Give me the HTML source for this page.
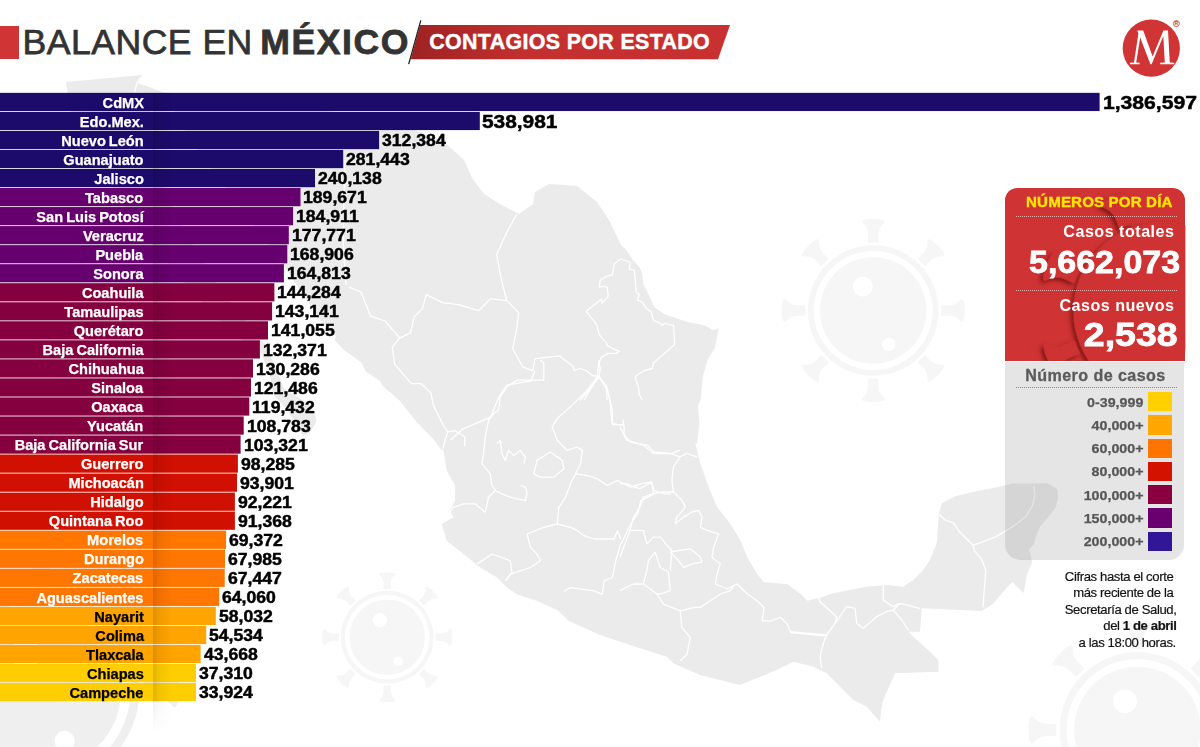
<!DOCTYPE html>
<html><head><meta charset="utf-8">
<style>
*{margin:0;padding:0;box-sizing:border-box}
html,body{width:1200px;height:747px;overflow:hidden;background:#fff}
body{position:relative;font-family:"Liberation Sans",sans-serif}
.a{position:absolute;white-space:nowrap}
</style></head><body>

<svg class="a" style="left:0;top:0" width="1200" height="747" viewBox="0 0 1200 747"><polygon points="66,82 142,75 140,80 137,83 163,92 230,100 300,108 360,115 410,128 444,142 464,160 472,178 484,194 500,204 519,214 533,204 535,192 549,184 577,186 597,202 609,220 621,245 626.3,250 631.3,258 639.3,267.1 642.3,274.1 643.3,284.1 648.4,294.2 654.4,307.2 664.4,314.3 676.5,318.3 688.5,322.3 700,324.3 705.3,325.8 713.7,330.6 718.6,328.2 715,347.5 707.7,359.5 702.9,376.4 700.5,400.5 698,405.3 699.3,424.6 696.9,443.9 695.3,443.4 700.3,463.5 708.7,486.9 717,507 730.4,523.7 740.5,540.5 747.2,557.2 757.2,574 763.9,582.3 787.3,584 800.7,594 807.4,600.7 820.8,597.4 833.3,593.3 866.7,586.7 886.7,585 903.3,586.7 913.3,580 923.3,570 930,560 937,542 939,513 942,503 956,496 973,492 993,488 1012.5,483.4 1032,483.4 1047.9,483.2 1057.5,489.6 1058,499.3 1055.4,507.9 1047.9,517.5 1040.4,526 1036,535.7 1034,544.3 1028.6,549.6 1030.7,555 1032,562 1026.5,576 1023.7,593 1012.5,582 1007,587.5 993,604 981.5,611 921.7,608.3 920,631.7 908.3,631.7 913.3,636.7 930,651.7 938.3,660 938.3,671.7 895,673.3 883.3,700 881.7,706.7 880,721.7 866.7,706.7 853.3,700 826.7,673.3 813.3,666.7 793.3,661.7 776.7,670 740,685 700,675 673.3,663.3 666.7,656.7 630,645 600,635 569,621 557.2,610 537.1,601 517,594.3 507,587.6 497,577.5 480.2,567.5 463.5,554.1 446.7,540.7 441.7,524 453.4,517.3 450,510.6 455.1,500.6 455.1,485.5 446.7,470.4 443.4,450.4 440.6,448.7 433.4,439 416.5,422 399.6,400.4 382.7,386 380.3,381.3 365.8,371.6 361,362 344,350 334.5,340.3 336,336 330,332 320,320 300,290 280,260 250,220 220,180 190,140 168,100 160,97 150,100 152,140 165,190 190,240 220,290 245,320 265,344.7 275.3,366.8 284.2,388.9 301.9,399.2 313.6,409.5 316.6,421.3 310.7,431.6 303.3,436 299,430 288.6,412.5 273.9,394.8 269.5,374.2 260.6,352 235,335 200,300 160,255 120,200 90,150 70,110 66,82" fill="#ebebeb"/><polyline points="516.7,214.3 506.7,232.4 496.7,254.5 500.7,276.5 506.7,300.6 518.8,312.7" fill="none" stroke="#fff" stroke-width="1.3" stroke-linejoin="round"/><polyline points="506.7,300.6 490.6,298.6 478.6,310.7 458.5,304.7 442.4,302.7 426.4,294.6 422.4,308.7 414.3,316.7 410.3,332.8 398.3,338.8" fill="none" stroke="#fff" stroke-width="1.3" stroke-linejoin="round"/><polyline points="518.8,312.7 516.7,328.8 512.7,348.8 522.8,366.9 532.8,370.9" fill="none" stroke="#fff" stroke-width="1.3" stroke-linejoin="round"/><polyline points="450.5,440.0 462.5,429.2 490.6,417.1 498.7,397.0 506.7,385.0 530.8,381.0 534.8,370.9" fill="none" stroke="#fff" stroke-width="1.3" stroke-linejoin="round"/><polyline points="532.8,370.9 534.8,358.9 550.9,356.9 560.5,355.9" fill="none" stroke="#fff" stroke-width="1.3" stroke-linejoin="round"/><polyline points="345,160 344,200 343,240 346,285" fill="none" stroke="#fff" stroke-width="1.3" stroke-linejoin="round"/><polyline points="598.1,376.4 592.0,386.0 580.0,400.5" fill="none" stroke="#fff" stroke-width="1.3" stroke-linejoin="round"/><polyline points="598.1,376.4 606.5,386.0 610.1,400.5 611.3,414.9 612.5,424.6 623.4,424.6 623.4,419.8" fill="none" stroke="#fff" stroke-width="1.3" stroke-linejoin="round"/><polyline points="483.5,453.7 485.2,437.0 488.6,420.2 493.6,413.5 498.6,410.2 500.3,396.8 507.0,386.8 517.0,380.1 543.8,380.1 543.8,363.3 540.4,360.0" fill="none" stroke="#fff" stroke-width="1.3" stroke-linejoin="round"/><polyline points="483.5,453.7 481.9,463.7 490.2,473.8 491.9,485.5 495.3,490.5 488.6,497.2 485.2,512.3" fill="none" stroke="#fff" stroke-width="1.3" stroke-linejoin="round"/><polyline points="485.2,512.3 475.2,503.9 463.5,503.9 453.4,507.3 448.4,513.9" fill="none" stroke="#fff" stroke-width="1.3" stroke-linejoin="round"/><polyline points="495.3,490.5 502.0,493.9 510.3,497.2 525.4,500.6 527.1,493.9 525.4,487.2 520.4,485.5" fill="none" stroke="#fff" stroke-width="1.3" stroke-linejoin="round"/><polyline points="533.7,473.8 537.1,460.4 550.5,452.0 562.2,460.4 563.9,468.8 553.8,477.1 540.4,477.1 533.7,473.8" fill="none" stroke="#fff" stroke-width="1.3" stroke-linejoin="round"/><polyline points="599.0,360.0 597.3,376.7 587.3,390.1 573.9,403.5 557.2,418.6 552.2,426.9 557.2,440.3 567.2,450.4 577.3,447.0 582.3,450.4 580.6,463.7 575.6,473.8" fill="none" stroke="#fff" stroke-width="1.3" stroke-linejoin="round"/><polyline points="575.6,473.8 570.6,483.8 565.5,497.2 558.8,507.3 557.2,524.0" fill="none" stroke="#fff" stroke-width="1.3" stroke-linejoin="round"/><polyline points="557.2,524.0 543.8,527.3 527.1,534.0 530.4,547.4 537.1,554.1 540.4,560.8 530.4,567.5 520.4,570.8 510.3,574.2 505.3,580.9" fill="none" stroke="#fff" stroke-width="1.3" stroke-linejoin="round"/><polyline points="557.2,524.0 570.6,527.3 577.3,530.7 583.9,535.7 594.0,539.0 614.1,539.0 617.4,530.7 620.8,539.0" fill="none" stroke="#fff" stroke-width="1.3" stroke-linejoin="round"/><polyline points="575.6,473.8 587.3,475.5 597.3,478.8 607.4,485.5 617.4,480.5 630.8,487.2 640.8,483.8 650.9,482.2 654.2,490.5 664.3,493.9 671.0,493.9" fill="none" stroke="#fff" stroke-width="1.3" stroke-linejoin="round"/><polyline points="599.0,376.7 607.4,390.1 612.4,410.2 612.4,423.6 624.1,425.3 624.1,435.3 630.8,442.0 647.5,445.3 654.2,452.0 671.0,453.7 680.0,450.4" fill="none" stroke="#fff" stroke-width="1.3" stroke-linejoin="round"/><polyline points="476.9,564.1 491.9,554.1 502.0,557.5 510.3,560.8 512.0,572.5 505.3,580.9" fill="none" stroke="#fff" stroke-width="1.3" stroke-linejoin="round"/><polyline points="563.9,590.9 570.6,587.6 594.0,590.9 602.4,594.3 604.0,580.9 612.4,577.5 615.7,560.8 620.8,544.1 627.5,530.7 630.8,524.0" fill="none" stroke="#fff" stroke-width="1.3" stroke-linejoin="round"/><polyline points="630.8,524.0 637.5,513.9 640.8,500.6 654.2,493.9" fill="none" stroke="#fff" stroke-width="1.3" stroke-linejoin="round"/><polyline points="496.9,443.7 500.3,440.3 502.0,453.7 505.3,460.4 508.6,450.4 513.7,455.4 520.4,450.4 525.4,457.1 523.7,463.7" fill="none" stroke="#fff" stroke-width="1.3" stroke-linejoin="round"/><polyline points="620.0,426.7 626.7,440.1 643.4,445.1 653.5,453.5 670.2,453.5 680.2,456.8 686.9,453.5 697.0,456.8" fill="none" stroke="#fff" stroke-width="1.3" stroke-linejoin="round"/><polyline points="680.2,456.8 673.5,466.9 671.9,480.2 673.5,492.0 681.9,500.3 685.3,507.0 676.9,517.1 675.2,523.7" fill="none" stroke="#fff" stroke-width="1.3" stroke-linejoin="round"/><polyline points="675.2,523.7 683.6,517.1 692.0,512.0 698.6,510.4 702.0,517.1 700.3,527.1 707.0,530.4 718.7,533.8 713.7,547.2 712.0,557.2 720.4,563.9 717.1,573.9 715.4,584.0 727.1,589.0 733.8,585.7" fill="none" stroke="#fff" stroke-width="1.3" stroke-linejoin="round"/><polyline points="733.8,585.7 737.1,584.0 747.2,594.0 757.2,600.7 763.9,607.4 762.2,620.8 770.6,620.8 780.6,617.5 787.3,624.1 790.7,632.5 824.1,635.9 827.5,634.2" fill="none" stroke="#fff" stroke-width="1.3" stroke-linejoin="round"/><polyline points="733.8,585.7 730.4,590.7 720.4,594.0 710.4,600.7 700.3,607.4 695.3,607.4 686.9,609.1 680.2,610.8 681.9,627.5 690.3,637.5 686.9,654.3 680.2,661.0" fill="none" stroke="#fff" stroke-width="1.3" stroke-linejoin="round"/><polyline points="680.2,610.8 663.5,604.1 656.8,594.0 643.4,584.0 633.4,584.0 620.0,590.7" fill="none" stroke="#fff" stroke-width="1.3" stroke-linejoin="round"/><polyline points="643.4,584.0 646.8,570.6 648.4,560.6 655.1,552.2 660.2,567.3 668.5,572.3 670.2,590.7 660.2,594.0 656.8,594.0" fill="none" stroke="#fff" stroke-width="1.3" stroke-linejoin="round"/><polyline points="620.0,557.2 630.0,530.4 643.4,530.4 646.8,543.8 653.5,537.1 660.2,537.1 668.5,547.2 671.9,550.5 670.2,570.6" fill="none" stroke="#fff" stroke-width="1.3" stroke-linejoin="round"/><polyline points="670.2,552.2 678.6,550.5 690.3,548.8 700.3,557.2 702.0,562.2 692.0,563.9 683.6,567.3 676.9,558.9 670.2,552.2" fill="none" stroke="#fff" stroke-width="1.3" stroke-linejoin="round"/><polyline points="630.0,530.4 633.4,517.1 640.1,507.0 643.4,497.0 653.5,493.6 651.8,481.9 640.1,488.6 633.4,486.9 626.7,483.6 620.0,483.6" fill="none" stroke="#fff" stroke-width="1.3" stroke-linejoin="round"/><polyline points="653.5,493.6 663.5,492.0 673.5,492.0" fill="none" stroke="#fff" stroke-width="1.3" stroke-linejoin="round"/><polyline points="939.4,514.4 945.0,520.0 953.4,522.8 959.1,531.2 967.5,539.7 973.1,545.3" fill="none" stroke="#fff" stroke-width="1.3" stroke-linejoin="round"/><polyline points="973.1,545.3 984.4,541.1 995.6,536.9 1009.7,528.4 1018.1,522.8 1026.5,515.8 1032.2,505.9 1035.0,494.7 1033.6,486.2" fill="none" stroke="#fff" stroke-width="1.3" stroke-linejoin="round"/><polyline points="973.1,545.3 974.5,550.9 981.6,559.4 985.8,570.6 984.4,587.5 983.0,607.2" fill="none" stroke="#fff" stroke-width="1.3" stroke-linejoin="round"/><polyline points="630.3,262.0 620.2,259.0 614.2,264.1 612.2,275.1 607.2,276.1 600.2,280.1 599.2,287.1 603.2,286.1 607.2,287.1 608.2,296.2 602.2,303.2 601.2,299.2 586.1,311.2 590.1,316.3 595.1,322.3 597.1,326.3 599.2,334.3 603.2,339.4 606.2,342.4 607.2,345.4 612.2,348.4 619.2,351.4 616.2,353.4 608.2,353.4 601.2,357.4 599.2,362.4 600.2,368.5 599.2,376.5 606.2,386.5 607.2,400.0" fill="none" stroke="#fff" stroke-width="1.3" stroke-linejoin="round"/><polyline points="630.3,262.0 629.3,269.1 634.3,270.1 635.3,280.1 636.3,292.2 639.3,294.2 637.3,300.2 642.3,302.2 646.3,308.2 651.4,312.2 653.4,320.3 658.4,322.3 662.4,325.3 664.4,323.3 673.5,325.3 674.5,344.4 664.4,353.4 658.4,358.4 653.4,363.5 652.4,368.5 644.3,370.5 636.3,375.5 635.3,378.5 638.3,386.5 639.3,394.6 642.3,400.0" fill="none" stroke="#fff" stroke-width="1.3" stroke-linejoin="round"/><polyline points="560.0,356.4 568.0,362.4 573.1,366.5 574.1,370.5 580.1,368.5 586.1,370.5 592.1,375.5 599.2,376.5" fill="none" stroke="#fff" stroke-width="1.3" stroke-linejoin="round"/><polyline points="599.2,376.5 592.1,386.5 584.1,400.0" fill="none" stroke="#fff" stroke-width="1.3" stroke-linejoin="round"/><polyline points="349,287.2 361,292 370.6,316.2 385,321 399.6,337.8 392.3,347.5 394.7,364.4 411.6,383.7 421.3,383.7 431,393.3 433.4,405.4 438.2,415 443,424.6 447.8,431.9 445.4,439.1 443,448.7" fill="none" stroke="#fff" stroke-width="1.3" stroke-linejoin="round"/><polyline points="447.8,431.9 455,430.7 464.7,436.7 464.7,446.4" fill="none" stroke="#fff" stroke-width="1.3" stroke-linejoin="round"/><polyline points="790.0,631.7 826.7,635.0 823.3,643.3 820.0,656.7 821.7,668.3" fill="none" stroke="#fff" stroke-width="1.3" stroke-linejoin="round"/><polyline points="826.7,635.0 835.0,623.3 836.7,616.7 820.0,601.7 818.3,596.7" fill="none" stroke="#fff" stroke-width="1.3" stroke-linejoin="round"/><polyline points="835.0,623.3 846.7,606.7 855.0,608.3 856.7,623.3 863.3,628.3 876.7,616.7 886.7,611.7 893.3,610.0 901.7,620.0 908.3,630.0" fill="none" stroke="#fff" stroke-width="1.3" stroke-linejoin="round"/><polyline points="893.3,610.0 900.0,603.3 920.0,608.3" fill="none" stroke="#fff" stroke-width="1.3" stroke-linejoin="round"/><polyline points="883.3,585.0 883.3,600.0 893.3,606.7 900.0,603.3" fill="none" stroke="#fff" stroke-width="1.3" stroke-linejoin="round"/><polyline points="140.5,77 137,83 134.5,93" fill="none" stroke="#fff" stroke-width="1.3" stroke-linejoin="round"/><g transform="translate(873.2,310.5) rotate(0) scale(1.0)"><g transform="rotate(0)"><rect x="-5.15" y="-80" width="10.3" height="12" fill="#f6f6f6"/><path d="M-5.15,-78 Q-6.5,-84.5 -11.7,-88.2 Q-11.7,-91.6 0,-91.6 Q11.7,-91.6 11.7,-88.2 Q6.5,-84.5 5.15,-78Z" fill="#f6f6f6"/></g><g transform="rotate(45)"><rect x="-5.15" y="-80" width="10.3" height="12" fill="#f6f6f6"/><path d="M-5.15,-78 Q-6.5,-84.5 -11.7,-88.2 Q-11.7,-91.6 0,-91.6 Q11.7,-91.6 11.7,-88.2 Q6.5,-84.5 5.15,-78Z" fill="#f6f6f6"/></g><g transform="rotate(90)"><rect x="-5.15" y="-80" width="10.3" height="12" fill="#f6f6f6"/><path d="M-5.15,-78 Q-6.5,-84.5 -11.7,-88.2 Q-11.7,-91.6 0,-91.6 Q11.7,-91.6 11.7,-88.2 Q6.5,-84.5 5.15,-78Z" fill="#f6f6f6"/></g><g transform="rotate(135)"><rect x="-5.15" y="-80" width="10.3" height="12" fill="#f6f6f6"/><path d="M-5.15,-78 Q-6.5,-84.5 -11.7,-88.2 Q-11.7,-91.6 0,-91.6 Q11.7,-91.6 11.7,-88.2 Q6.5,-84.5 5.15,-78Z" fill="#f6f6f6"/></g><g transform="rotate(180)"><rect x="-5.15" y="-80" width="10.3" height="12" fill="#f6f6f6"/><path d="M-5.15,-78 Q-6.5,-84.5 -11.7,-88.2 Q-11.7,-91.6 0,-91.6 Q11.7,-91.6 11.7,-88.2 Q6.5,-84.5 5.15,-78Z" fill="#f6f6f6"/></g><g transform="rotate(225)"><rect x="-5.15" y="-80" width="10.3" height="12" fill="#f6f6f6"/><path d="M-5.15,-78 Q-6.5,-84.5 -11.7,-88.2 Q-11.7,-91.6 0,-91.6 Q11.7,-91.6 11.7,-88.2 Q6.5,-84.5 5.15,-78Z" fill="#f6f6f6"/></g><g transform="rotate(270)"><rect x="-5.15" y="-80" width="10.3" height="12" fill="#f6f6f6"/><path d="M-5.15,-78 Q-6.5,-84.5 -11.7,-88.2 Q-11.7,-91.6 0,-91.6 Q11.7,-91.6 11.7,-88.2 Q6.5,-84.5 5.15,-78Z" fill="#f6f6f6"/></g><g transform="rotate(315)"><rect x="-5.15" y="-80" width="10.3" height="12" fill="#f6f6f6"/><path d="M-5.15,-78 Q-6.5,-84.5 -11.7,-88.2 Q-11.7,-91.6 0,-91.6 Q11.7,-91.6 11.7,-88.2 Q6.5,-84.5 5.15,-78Z" fill="#f6f6f6"/></g><circle r="65.3" fill="#f6f6f6"/><circle r="59.5" fill="#fff"/><circle r="53.2" fill="#f6f6f6"/><circle cx="-10.4" cy="-24" r="10" fill="#fff"/><circle cx="15.5" cy="34" r="6.7" fill="#fff"/></g><g transform="translate(387.2,637.2) rotate(0) scale(0.71)"><g transform="rotate(0)"><rect x="-5.15" y="-80" width="10.3" height="12" fill="#f6f6f6"/><path d="M-5.15,-78 Q-6.5,-84.5 -11.7,-88.2 Q-11.7,-91.6 0,-91.6 Q11.7,-91.6 11.7,-88.2 Q6.5,-84.5 5.15,-78Z" fill="#f6f6f6"/></g><g transform="rotate(45)"><rect x="-5.15" y="-80" width="10.3" height="12" fill="#f6f6f6"/><path d="M-5.15,-78 Q-6.5,-84.5 -11.7,-88.2 Q-11.7,-91.6 0,-91.6 Q11.7,-91.6 11.7,-88.2 Q6.5,-84.5 5.15,-78Z" fill="#f6f6f6"/></g><g transform="rotate(90)"><rect x="-5.15" y="-80" width="10.3" height="12" fill="#f6f6f6"/><path d="M-5.15,-78 Q-6.5,-84.5 -11.7,-88.2 Q-11.7,-91.6 0,-91.6 Q11.7,-91.6 11.7,-88.2 Q6.5,-84.5 5.15,-78Z" fill="#f6f6f6"/></g><g transform="rotate(135)"><rect x="-5.15" y="-80" width="10.3" height="12" fill="#f6f6f6"/><path d="M-5.15,-78 Q-6.5,-84.5 -11.7,-88.2 Q-11.7,-91.6 0,-91.6 Q11.7,-91.6 11.7,-88.2 Q6.5,-84.5 5.15,-78Z" fill="#f6f6f6"/></g><g transform="rotate(180)"><rect x="-5.15" y="-80" width="10.3" height="12" fill="#f6f6f6"/><path d="M-5.15,-78 Q-6.5,-84.5 -11.7,-88.2 Q-11.7,-91.6 0,-91.6 Q11.7,-91.6 11.7,-88.2 Q6.5,-84.5 5.15,-78Z" fill="#f6f6f6"/></g><g transform="rotate(225)"><rect x="-5.15" y="-80" width="10.3" height="12" fill="#f6f6f6"/><path d="M-5.15,-78 Q-6.5,-84.5 -11.7,-88.2 Q-11.7,-91.6 0,-91.6 Q11.7,-91.6 11.7,-88.2 Q6.5,-84.5 5.15,-78Z" fill="#f6f6f6"/></g><g transform="rotate(270)"><rect x="-5.15" y="-80" width="10.3" height="12" fill="#f6f6f6"/><path d="M-5.15,-78 Q-6.5,-84.5 -11.7,-88.2 Q-11.7,-91.6 0,-91.6 Q11.7,-91.6 11.7,-88.2 Q6.5,-84.5 5.15,-78Z" fill="#f6f6f6"/></g><g transform="rotate(315)"><rect x="-5.15" y="-80" width="10.3" height="12" fill="#f6f6f6"/><path d="M-5.15,-78 Q-6.5,-84.5 -11.7,-88.2 Q-11.7,-91.6 0,-91.6 Q11.7,-91.6 11.7,-88.2 Q6.5,-84.5 5.15,-78Z" fill="#f6f6f6"/></g><circle r="65.3" fill="#f6f6f6"/><circle r="59.5" fill="#fff"/><circle r="53.2" fill="#f6f6f6"/><circle cx="-10.4" cy="-24" r="10" fill="#fff"/><circle cx="15.5" cy="34" r="6.7" fill="#fff"/></g><g transform="translate(1137.4,730) rotate(0) scale(1.19)"><g transform="rotate(0)"><rect x="-5.15" y="-80" width="10.3" height="12" fill="#f6f6f6"/><path d="M-5.15,-78 Q-6.5,-84.5 -11.7,-88.2 Q-11.7,-91.6 0,-91.6 Q11.7,-91.6 11.7,-88.2 Q6.5,-84.5 5.15,-78Z" fill="#f6f6f6"/></g><g transform="rotate(45)"><rect x="-5.15" y="-80" width="10.3" height="12" fill="#f6f6f6"/><path d="M-5.15,-78 Q-6.5,-84.5 -11.7,-88.2 Q-11.7,-91.6 0,-91.6 Q11.7,-91.6 11.7,-88.2 Q6.5,-84.5 5.15,-78Z" fill="#f6f6f6"/></g><g transform="rotate(90)"><rect x="-5.15" y="-80" width="10.3" height="12" fill="#f6f6f6"/><path d="M-5.15,-78 Q-6.5,-84.5 -11.7,-88.2 Q-11.7,-91.6 0,-91.6 Q11.7,-91.6 11.7,-88.2 Q6.5,-84.5 5.15,-78Z" fill="#f6f6f6"/></g><g transform="rotate(135)"><rect x="-5.15" y="-80" width="10.3" height="12" fill="#f6f6f6"/><path d="M-5.15,-78 Q-6.5,-84.5 -11.7,-88.2 Q-11.7,-91.6 0,-91.6 Q11.7,-91.6 11.7,-88.2 Q6.5,-84.5 5.15,-78Z" fill="#f6f6f6"/></g><g transform="rotate(180)"><rect x="-5.15" y="-80" width="10.3" height="12" fill="#f6f6f6"/><path d="M-5.15,-78 Q-6.5,-84.5 -11.7,-88.2 Q-11.7,-91.6 0,-91.6 Q11.7,-91.6 11.7,-88.2 Q6.5,-84.5 5.15,-78Z" fill="#f6f6f6"/></g><g transform="rotate(225)"><rect x="-5.15" y="-80" width="10.3" height="12" fill="#f6f6f6"/><path d="M-5.15,-78 Q-6.5,-84.5 -11.7,-88.2 Q-11.7,-91.6 0,-91.6 Q11.7,-91.6 11.7,-88.2 Q6.5,-84.5 5.15,-78Z" fill="#f6f6f6"/></g><g transform="rotate(270)"><rect x="-5.15" y="-80" width="10.3" height="12" fill="#f6f6f6"/><path d="M-5.15,-78 Q-6.5,-84.5 -11.7,-88.2 Q-11.7,-91.6 0,-91.6 Q11.7,-91.6 11.7,-88.2 Q6.5,-84.5 5.15,-78Z" fill="#f6f6f6"/></g><g transform="rotate(315)"><rect x="-5.15" y="-80" width="10.3" height="12" fill="#f6f6f6"/><path d="M-5.15,-78 Q-6.5,-84.5 -11.7,-88.2 Q-11.7,-91.6 0,-91.6 Q11.7,-91.6 11.7,-88.2 Q6.5,-84.5 5.15,-78Z" fill="#f6f6f6"/></g><circle r="65.3" fill="#f6f6f6"/><circle r="59.5" fill="#fff"/><circle r="53.2" fill="#f6f6f6"/><circle cx="-10.4" cy="-24" r="10" fill="#fff"/><circle cx="15.5" cy="34" r="6.7" fill="#fff"/></g><g transform="translate(41.3,689.8) rotate(0) scale(1.503)"><g transform="rotate(0)"><rect x="-5.15" y="-80" width="10.3" height="12" fill="#efefef"/><path d="M-5.15,-78 Q-6.5,-84.5 -11.7,-88.2 Q-11.7,-91.6 0,-91.6 Q11.7,-91.6 11.7,-88.2 Q6.5,-84.5 5.15,-78Z" fill="#efefef"/></g><g transform="rotate(45)"><rect x="-5.15" y="-80" width="10.3" height="12" fill="#efefef"/><path d="M-5.15,-78 Q-6.5,-84.5 -11.7,-88.2 Q-11.7,-91.6 0,-91.6 Q11.7,-91.6 11.7,-88.2 Q6.5,-84.5 5.15,-78Z" fill="#efefef"/></g><g transform="rotate(90)"><rect x="-5.15" y="-80" width="10.3" height="12" fill="#efefef"/><path d="M-5.15,-78 Q-6.5,-84.5 -11.7,-88.2 Q-11.7,-91.6 0,-91.6 Q11.7,-91.6 11.7,-88.2 Q6.5,-84.5 5.15,-78Z" fill="#efefef"/></g><g transform="rotate(135)"><rect x="-5.15" y="-80" width="10.3" height="12" fill="#efefef"/><path d="M-5.15,-78 Q-6.5,-84.5 -11.7,-88.2 Q-11.7,-91.6 0,-91.6 Q11.7,-91.6 11.7,-88.2 Q6.5,-84.5 5.15,-78Z" fill="#efefef"/></g><g transform="rotate(180)"><rect x="-5.15" y="-80" width="10.3" height="12" fill="#efefef"/><path d="M-5.15,-78 Q-6.5,-84.5 -11.7,-88.2 Q-11.7,-91.6 0,-91.6 Q11.7,-91.6 11.7,-88.2 Q6.5,-84.5 5.15,-78Z" fill="#efefef"/></g><g transform="rotate(225)"><rect x="-5.15" y="-80" width="10.3" height="12" fill="#efefef"/><path d="M-5.15,-78 Q-6.5,-84.5 -11.7,-88.2 Q-11.7,-91.6 0,-91.6 Q11.7,-91.6 11.7,-88.2 Q6.5,-84.5 5.15,-78Z" fill="#efefef"/></g><g transform="rotate(270)"><rect x="-5.15" y="-80" width="10.3" height="12" fill="#efefef"/><path d="M-5.15,-78 Q-6.5,-84.5 -11.7,-88.2 Q-11.7,-91.6 0,-91.6 Q11.7,-91.6 11.7,-88.2 Q6.5,-84.5 5.15,-78Z" fill="#efefef"/></g><g transform="rotate(315)"><rect x="-5.15" y="-80" width="10.3" height="12" fill="#efefef"/><path d="M-5.15,-78 Q-6.5,-84.5 -11.7,-88.2 Q-11.7,-91.6 0,-91.6 Q11.7,-91.6 11.7,-88.2 Q6.5,-84.5 5.15,-78Z" fill="#efefef"/></g><circle r="65.3" fill="#efefef"/><circle r="59.5" fill="#fff"/><circle r="53.2" fill="#efefef"/><circle cx="-10.4" cy="-24" r="10" fill="#fff"/><circle cx="15.5" cy="34" r="6.7" fill="#fff"/></g><rect x="0" y="92.85" width="1099.6" height="18.2" fill="#1d0b6b"/><rect x="0" y="111.88" width="479.8" height="18.2" fill="#1d0b6b"/><rect x="0" y="130.92" width="379.1" height="18.2" fill="#1d0b6b"/><rect x="0" y="149.95" width="343.2" height="18.2" fill="#1d0b6b"/><rect x="0" y="168.99" width="315.0" height="18.2" fill="#1d0b6b"/><rect x="0" y="188.02" width="300.5" height="18.2" fill="#66006e"/><rect x="0" y="207.06" width="293.1" height="18.2" fill="#66006e"/><rect x="0" y="226.09" width="288.8" height="18.2" fill="#66006e"/><rect x="0" y="245.13" width="287.3" height="18.2" fill="#66006e"/><rect x="0" y="264.16" width="283.9" height="18.2" fill="#66006e"/><rect x="0" y="283.20" width="274.4" height="18.2" fill="#84003e"/><rect x="0" y="302.24" width="272.1" height="18.2" fill="#84003e"/><rect x="0" y="321.27" width="268.0" height="18.2" fill="#84003e"/><rect x="0" y="340.31" width="259.9" height="18.2" fill="#84003e"/><rect x="0" y="359.34" width="253.0" height="18.2" fill="#84003e"/><rect x="0" y="378.38" width="251.0" height="18.2" fill="#84003e"/><rect x="0" y="397.41" width="249.3" height="18.2" fill="#84003e"/><rect x="0" y="416.45" width="243.7" height="18.2" fill="#84003e"/><rect x="0" y="435.48" width="240.6" height="18.2" fill="#84003e"/><rect x="0" y="454.51" width="237.9" height="18.2" fill="#d01000"/><rect x="0" y="473.55" width="237.0" height="18.2" fill="#d01000"/><rect x="0" y="492.59" width="234.9" height="18.2" fill="#d01000"/><rect x="0" y="511.62" width="234.9" height="18.2" fill="#d01000"/><rect x="0" y="530.65" width="226.1" height="18.2" fill="#ff7600"/><rect x="0" y="549.69" width="225.0" height="18.2" fill="#ff7600"/><rect x="0" y="568.73" width="224.7" height="18.2" fill="#ff7600"/><rect x="0" y="587.76" width="219.2" height="18.2" fill="#ff7600"/><rect x="0" y="606.80" width="215.8" height="18.2" fill="#ffa400"/><rect x="0" y="625.83" width="206.2" height="18.2" fill="#ffa400"/><rect x="0" y="644.87" width="200.6" height="18.2" fill="#ffa400"/><rect x="0" y="663.90" width="196.0" height="18.2" fill="#ffce00"/><rect x="0" y="682.94" width="196.0" height="18.2" fill="#ffce00"/><defs><linearGradient id="sh" x1="0" x2="1"><stop offset="0" stop-color="#000" stop-opacity="0.13"/><stop offset="0.3" stop-color="#000" stop-opacity="0.055"/><stop offset="1" stop-color="#000" stop-opacity="0"/></linearGradient><linearGradient id="shv" gradientUnits="userSpaceOnUse" x1="0" x2="0" y1="93" y2="733"><stop offset="0.95" stop-color="#fff"/><stop offset="0.953" stop-color="#fff" stop-opacity="0.45"/><stop offset="1" stop-color="#fff" stop-opacity="0"/></linearGradient><mask id="mk"><rect x="153" y="93" width="19" height="640" fill="url(#shv)"/></mask></defs><rect x="153" y="93" width="19" height="640" fill="url(#sh)" mask="url(#mk)"/></svg>
<div class="a" style="right:1056.50px;top:95.61px;font-size:14.1px;line-height:14.1px;font-weight:bold;color:#fff;letter-spacing:0.0px;transform:scaleX(1.035);transform-origin:right center;word-spacing:-1.0px;-webkit-text-stroke:0.25px #fff;">CdMX</div>
<div class="a" style="left:1102.50px;top:93.63px;font-size:18.8px;line-height:18.8px;font-weight:bold;color:#000;letter-spacing:0.0px;transform:scaleX(1.125);transform-origin:left center;-webkit-text-stroke:0.5px #000;">1,386,597</div>
<div class="a" style="right:1056.50px;top:114.65px;font-size:14.1px;line-height:14.1px;font-weight:bold;color:#fff;letter-spacing:0.0px;transform:scaleX(1.035);transform-origin:right center;word-spacing:-1.0px;-webkit-text-stroke:0.25px #fff;">Edo.Mex.</div>
<div class="a" style="left:482.00px;top:112.67px;font-size:18.8px;line-height:18.8px;font-weight:bold;color:#000;letter-spacing:0.0px;transform:scaleX(1.11);transform-origin:left center;-webkit-text-stroke:0.5px #000;">538,981</div>
<div class="a" style="right:1056.50px;top:133.68px;font-size:14.1px;line-height:14.1px;font-weight:bold;color:#fff;letter-spacing:0.0px;transform:scaleX(1.035);transform-origin:right center;word-spacing:-1.0px;-webkit-text-stroke:0.25px #fff;">Nuevo León</div>
<div class="a" style="left:382.00px;top:133.11px;font-size:15.6px;line-height:15.6px;font-weight:bold;color:#000;letter-spacing:0.0px;transform:scaleX(1.13);transform-origin:left center;-webkit-text-stroke:0.45px #000;">312,384</div>
<div class="a" style="right:1056.50px;top:152.72px;font-size:14.1px;line-height:14.1px;font-weight:bold;color:#fff;letter-spacing:0.0px;transform:scaleX(1.035);transform-origin:right center;word-spacing:-1.0px;-webkit-text-stroke:0.25px #fff;">Guanajuato</div>
<div class="a" style="left:346.10px;top:152.15px;font-size:15.6px;line-height:15.6px;font-weight:bold;color:#000;letter-spacing:0.0px;transform:scaleX(1.13);transform-origin:left center;-webkit-text-stroke:0.45px #000;">281,443</div>
<div class="a" style="right:1056.50px;top:171.75px;font-size:14.1px;line-height:14.1px;font-weight:bold;color:#fff;letter-spacing:0.0px;transform:scaleX(1.035);transform-origin:right center;word-spacing:-1.0px;-webkit-text-stroke:0.25px #fff;">Jalisco</div>
<div class="a" style="left:317.90px;top:171.18px;font-size:15.6px;line-height:15.6px;font-weight:bold;color:#000;letter-spacing:0.0px;transform:scaleX(1.13);transform-origin:left center;-webkit-text-stroke:0.45px #000;">240,138</div>
<div class="a" style="right:1056.50px;top:190.79px;font-size:14.1px;line-height:14.1px;font-weight:bold;color:#fff;letter-spacing:0.0px;transform:scaleX(1.035);transform-origin:right center;word-spacing:-1.0px;-webkit-text-stroke:0.25px #fff;">Tabasco</div>
<div class="a" style="left:303.40px;top:190.22px;font-size:15.6px;line-height:15.6px;font-weight:bold;color:#000;letter-spacing:0.0px;transform:scaleX(1.13);transform-origin:left center;-webkit-text-stroke:0.45px #000;">189,671</div>
<div class="a" style="right:1056.50px;top:209.82px;font-size:14.1px;line-height:14.1px;font-weight:bold;color:#fff;letter-spacing:0.0px;transform:scaleX(1.035);transform-origin:right center;word-spacing:-1.0px;-webkit-text-stroke:0.25px #fff;">San Luis Potosí</div>
<div class="a" style="left:296.00px;top:209.25px;font-size:15.6px;line-height:15.6px;font-weight:bold;color:#000;letter-spacing:0.0px;transform:scaleX(1.13);transform-origin:left center;-webkit-text-stroke:0.45px #000;">184,911</div>
<div class="a" style="right:1056.50px;top:228.86px;font-size:14.1px;line-height:14.1px;font-weight:bold;color:#fff;letter-spacing:0.0px;transform:scaleX(1.035);transform-origin:right center;word-spacing:-1.0px;-webkit-text-stroke:0.25px #fff;">Veracruz</div>
<div class="a" style="left:291.70px;top:228.29px;font-size:15.6px;line-height:15.6px;font-weight:bold;color:#000;letter-spacing:0.0px;transform:scaleX(1.13);transform-origin:left center;-webkit-text-stroke:0.45px #000;">177,771</div>
<div class="a" style="right:1056.50px;top:247.89px;font-size:14.1px;line-height:14.1px;font-weight:bold;color:#fff;letter-spacing:0.0px;transform:scaleX(1.035);transform-origin:right center;word-spacing:-1.0px;-webkit-text-stroke:0.25px #fff;">Puebla</div>
<div class="a" style="left:290.20px;top:247.32px;font-size:15.6px;line-height:15.6px;font-weight:bold;color:#000;letter-spacing:0.0px;transform:scaleX(1.13);transform-origin:left center;-webkit-text-stroke:0.45px #000;">168,906</div>
<div class="a" style="right:1056.50px;top:266.93px;font-size:14.1px;line-height:14.1px;font-weight:bold;color:#fff;letter-spacing:0.0px;transform:scaleX(1.035);transform-origin:right center;word-spacing:-1.0px;-webkit-text-stroke:0.25px #fff;">Sonora</div>
<div class="a" style="left:286.80px;top:266.36px;font-size:15.6px;line-height:15.6px;font-weight:bold;color:#000;letter-spacing:0.0px;transform:scaleX(1.13);transform-origin:left center;-webkit-text-stroke:0.45px #000;">164,813</div>
<div class="a" style="right:1056.50px;top:285.96px;font-size:14.1px;line-height:14.1px;font-weight:bold;color:#fff;letter-spacing:0.0px;transform:scaleX(1.035);transform-origin:right center;word-spacing:-1.0px;-webkit-text-stroke:0.25px #fff;">Coahuila</div>
<div class="a" style="left:277.30px;top:285.39px;font-size:15.6px;line-height:15.6px;font-weight:bold;color:#000;letter-spacing:0.0px;transform:scaleX(1.13);transform-origin:left center;-webkit-text-stroke:0.45px #000;">144,284</div>
<div class="a" style="right:1056.50px;top:305.00px;font-size:14.1px;line-height:14.1px;font-weight:bold;color:#fff;letter-spacing:0.0px;transform:scaleX(1.035);transform-origin:right center;word-spacing:-1.0px;-webkit-text-stroke:0.25px #fff;">Tamaulipas</div>
<div class="a" style="left:275.00px;top:304.43px;font-size:15.6px;line-height:15.6px;font-weight:bold;color:#000;letter-spacing:0.0px;transform:scaleX(1.13);transform-origin:left center;-webkit-text-stroke:0.45px #000;">143,141</div>
<div class="a" style="right:1056.50px;top:324.03px;font-size:14.1px;line-height:14.1px;font-weight:bold;color:#fff;letter-spacing:0.0px;transform:scaleX(1.035);transform-origin:right center;word-spacing:-1.0px;-webkit-text-stroke:0.25px #fff;">Querétaro</div>
<div class="a" style="left:270.90px;top:323.46px;font-size:15.6px;line-height:15.6px;font-weight:bold;color:#000;letter-spacing:0.0px;transform:scaleX(1.13);transform-origin:left center;-webkit-text-stroke:0.45px #000;">141,055</div>
<div class="a" style="right:1056.50px;top:343.07px;font-size:14.1px;line-height:14.1px;font-weight:bold;color:#fff;letter-spacing:0.0px;transform:scaleX(1.035);transform-origin:right center;word-spacing:-1.0px;-webkit-text-stroke:0.25px #fff;">Baja California</div>
<div class="a" style="left:262.80px;top:342.50px;font-size:15.6px;line-height:15.6px;font-weight:bold;color:#000;letter-spacing:0.0px;transform:scaleX(1.13);transform-origin:left center;-webkit-text-stroke:0.45px #000;">132,371</div>
<div class="a" style="right:1056.50px;top:362.10px;font-size:14.1px;line-height:14.1px;font-weight:bold;color:#fff;letter-spacing:0.0px;transform:scaleX(1.035);transform-origin:right center;word-spacing:-1.0px;-webkit-text-stroke:0.25px #fff;">Chihuahua</div>
<div class="a" style="left:255.90px;top:361.53px;font-size:15.6px;line-height:15.6px;font-weight:bold;color:#000;letter-spacing:0.0px;transform:scaleX(1.13);transform-origin:left center;-webkit-text-stroke:0.45px #000;">130,286</div>
<div class="a" style="right:1056.50px;top:381.14px;font-size:14.1px;line-height:14.1px;font-weight:bold;color:#fff;letter-spacing:0.0px;transform:scaleX(1.035);transform-origin:right center;word-spacing:-1.0px;-webkit-text-stroke:0.25px #fff;">Sinaloa</div>
<div class="a" style="left:253.90px;top:380.57px;font-size:15.6px;line-height:15.6px;font-weight:bold;color:#000;letter-spacing:0.0px;transform:scaleX(1.13);transform-origin:left center;-webkit-text-stroke:0.45px #000;">121,486</div>
<div class="a" style="right:1056.50px;top:400.17px;font-size:14.1px;line-height:14.1px;font-weight:bold;color:#fff;letter-spacing:0.0px;transform:scaleX(1.035);transform-origin:right center;word-spacing:-1.0px;-webkit-text-stroke:0.25px #fff;">Oaxaca</div>
<div class="a" style="left:252.20px;top:399.60px;font-size:15.6px;line-height:15.6px;font-weight:bold;color:#000;letter-spacing:0.0px;transform:scaleX(1.13);transform-origin:left center;-webkit-text-stroke:0.45px #000;">119,432</div>
<div class="a" style="right:1056.50px;top:419.21px;font-size:14.1px;line-height:14.1px;font-weight:bold;color:#fff;letter-spacing:0.0px;transform:scaleX(1.035);transform-origin:right center;word-spacing:-1.0px;-webkit-text-stroke:0.25px #fff;">Yucatán</div>
<div class="a" style="left:246.60px;top:418.64px;font-size:15.6px;line-height:15.6px;font-weight:bold;color:#000;letter-spacing:0.0px;transform:scaleX(1.13);transform-origin:left center;-webkit-text-stroke:0.45px #000;">108,783</div>
<div class="a" style="right:1056.50px;top:438.24px;font-size:14.1px;line-height:14.1px;font-weight:bold;color:#fff;letter-spacing:0.0px;transform:scaleX(1.035);transform-origin:right center;word-spacing:-1.0px;-webkit-text-stroke:0.25px #fff;">Baja California Sur</div>
<div class="a" style="left:243.50px;top:437.67px;font-size:15.6px;line-height:15.6px;font-weight:bold;color:#000;letter-spacing:0.0px;transform:scaleX(1.13);transform-origin:left center;-webkit-text-stroke:0.45px #000;">103,321</div>
<div class="a" style="right:1056.50px;top:457.28px;font-size:14.1px;line-height:14.1px;font-weight:bold;color:#fff;letter-spacing:0.0px;transform:scaleX(1.035);transform-origin:right center;word-spacing:-1.0px;-webkit-text-stroke:0.25px #fff;">Guerrero</div>
<div class="a" style="left:240.80px;top:456.71px;font-size:15.6px;line-height:15.6px;font-weight:bold;color:#000;letter-spacing:0.0px;transform:scaleX(1.13);transform-origin:left center;-webkit-text-stroke:0.45px #000;">98,285</div>
<div class="a" style="right:1056.50px;top:476.31px;font-size:14.1px;line-height:14.1px;font-weight:bold;color:#fff;letter-spacing:0.0px;transform:scaleX(1.035);transform-origin:right center;word-spacing:-1.0px;-webkit-text-stroke:0.25px #fff;">Michoacán</div>
<div class="a" style="left:239.90px;top:475.74px;font-size:15.6px;line-height:15.6px;font-weight:bold;color:#000;letter-spacing:0.0px;transform:scaleX(1.13);transform-origin:left center;-webkit-text-stroke:0.45px #000;">93,901</div>
<div class="a" style="right:1056.50px;top:495.35px;font-size:14.1px;line-height:14.1px;font-weight:bold;color:#fff;letter-spacing:0.0px;transform:scaleX(1.035);transform-origin:right center;word-spacing:-1.0px;-webkit-text-stroke:0.25px #fff;">Hidalgo</div>
<div class="a" style="left:237.80px;top:494.78px;font-size:15.6px;line-height:15.6px;font-weight:bold;color:#000;letter-spacing:0.0px;transform:scaleX(1.13);transform-origin:left center;-webkit-text-stroke:0.45px #000;">92,221</div>
<div class="a" style="right:1056.50px;top:514.38px;font-size:14.1px;line-height:14.1px;font-weight:bold;color:#fff;letter-spacing:0.0px;transform:scaleX(1.035);transform-origin:right center;word-spacing:-1.0px;-webkit-text-stroke:0.25px #fff;">Quintana Roo</div>
<div class="a" style="left:237.80px;top:513.81px;font-size:15.6px;line-height:15.6px;font-weight:bold;color:#000;letter-spacing:0.0px;transform:scaleX(1.13);transform-origin:left center;-webkit-text-stroke:0.45px #000;">91,368</div>
<div class="a" style="right:1056.50px;top:533.42px;font-size:14.1px;line-height:14.1px;font-weight:bold;color:#fff;letter-spacing:0.0px;transform:scaleX(1.035);transform-origin:right center;word-spacing:-1.0px;-webkit-text-stroke:0.25px #fff;">Morelos</div>
<div class="a" style="left:229.00px;top:532.85px;font-size:15.6px;line-height:15.6px;font-weight:bold;color:#000;letter-spacing:0.0px;transform:scaleX(1.13);transform-origin:left center;-webkit-text-stroke:0.45px #000;">69,372</div>
<div class="a" style="right:1056.50px;top:552.45px;font-size:14.1px;line-height:14.1px;font-weight:bold;color:#fff;letter-spacing:0.0px;transform:scaleX(1.035);transform-origin:right center;word-spacing:-1.0px;-webkit-text-stroke:0.25px #fff;">Durango</div>
<div class="a" style="left:227.90px;top:551.88px;font-size:15.6px;line-height:15.6px;font-weight:bold;color:#000;letter-spacing:0.0px;transform:scaleX(1.13);transform-origin:left center;-webkit-text-stroke:0.45px #000;">67,985</div>
<div class="a" style="right:1056.50px;top:571.49px;font-size:14.1px;line-height:14.1px;font-weight:bold;color:#fff;letter-spacing:0.0px;transform:scaleX(1.035);transform-origin:right center;word-spacing:-1.0px;-webkit-text-stroke:0.25px #fff;">Zacatecas</div>
<div class="a" style="left:227.60px;top:570.92px;font-size:15.6px;line-height:15.6px;font-weight:bold;color:#000;letter-spacing:0.0px;transform:scaleX(1.13);transform-origin:left center;-webkit-text-stroke:0.45px #000;">67,447</div>
<div class="a" style="right:1056.50px;top:590.52px;font-size:14.1px;line-height:14.1px;font-weight:bold;color:#fff;letter-spacing:0.0px;transform:scaleX(1.035);transform-origin:right center;word-spacing:-1.0px;-webkit-text-stroke:0.25px #fff;">Aguascalientes</div>
<div class="a" style="left:222.10px;top:589.95px;font-size:15.6px;line-height:15.6px;font-weight:bold;color:#000;letter-spacing:0.0px;transform:scaleX(1.13);transform-origin:left center;-webkit-text-stroke:0.45px #000;">64,060</div>
<div class="a" style="right:1056.50px;top:609.56px;font-size:14.1px;line-height:14.1px;font-weight:bold;color:#000;letter-spacing:0.0px;transform:scaleX(1.035);transform-origin:right center;word-spacing:-1.0px;-webkit-text-stroke:0.25px #000;">Nayarit</div>
<div class="a" style="left:218.70px;top:608.99px;font-size:15.6px;line-height:15.6px;font-weight:bold;color:#000;letter-spacing:0.0px;transform:scaleX(1.13);transform-origin:left center;-webkit-text-stroke:0.45px #000;">58,032</div>
<div class="a" style="right:1056.50px;top:628.59px;font-size:14.1px;line-height:14.1px;font-weight:bold;color:#000;letter-spacing:0.0px;transform:scaleX(1.035);transform-origin:right center;word-spacing:-1.0px;-webkit-text-stroke:0.25px #000;">Colima</div>
<div class="a" style="left:209.10px;top:628.02px;font-size:15.6px;line-height:15.6px;font-weight:bold;color:#000;letter-spacing:0.0px;transform:scaleX(1.13);transform-origin:left center;-webkit-text-stroke:0.45px #000;">54,534</div>
<div class="a" style="right:1056.50px;top:647.63px;font-size:14.1px;line-height:14.1px;font-weight:bold;color:#000;letter-spacing:0.0px;transform:scaleX(1.035);transform-origin:right center;word-spacing:-1.0px;-webkit-text-stroke:0.25px #000;">Tlaxcala</div>
<div class="a" style="left:203.50px;top:647.06px;font-size:15.6px;line-height:15.6px;font-weight:bold;color:#000;letter-spacing:0.0px;transform:scaleX(1.13);transform-origin:left center;-webkit-text-stroke:0.45px #000;">43,668</div>
<div class="a" style="right:1056.50px;top:666.66px;font-size:14.1px;line-height:14.1px;font-weight:bold;color:#000;letter-spacing:0.0px;transform:scaleX(1.035);transform-origin:right center;word-spacing:-1.0px;-webkit-text-stroke:0.25px #000;">Chiapas</div>
<div class="a" style="left:198.90px;top:666.09px;font-size:15.6px;line-height:15.6px;font-weight:bold;color:#000;letter-spacing:0.0px;transform:scaleX(1.13);transform-origin:left center;-webkit-text-stroke:0.45px #000;">37,310</div>
<div class="a" style="right:1056.50px;top:685.70px;font-size:14.1px;line-height:14.1px;font-weight:bold;color:#000;letter-spacing:0.0px;transform:scaleX(1.035);transform-origin:right center;word-spacing:-1.0px;-webkit-text-stroke:0.25px #000;">Campeche</div>
<div class="a" style="left:198.90px;top:685.13px;font-size:15.6px;line-height:15.6px;font-weight:bold;color:#000;letter-spacing:0.0px;transform:scaleX(1.13);transform-origin:left center;-webkit-text-stroke:0.45px #000;">33,924</div>
<div class="a" style="left:0;top:26px;width:19px;height:33px;background:#d13434"></div>
<div class="a" style="left:22.60px;top:24.86px;font-size:35.6px;line-height:35.6px;color:#333;letter-spacing:0.48px;-webkit-text-stroke:0.75px #333;">BALANCE EN</div>
<div class="a" style="left:260.30px;top:24.86px;font-size:35.6px;line-height:35.6px;font-weight:bold;color:#333;letter-spacing:1.55px;-webkit-text-stroke:0.8px #333;">MÉXICO</div>
<svg class="a" style="left:400px;top:15px" width="340" height="55" viewBox="400 15 340 55"><defs><linearGradient id="bg1" x1="0" x2="1"><stop offset="0" stop-color="#9e2222"/><stop offset="0.35" stop-color="#c32f2f"/><stop offset="1" stop-color="#c93131"/></linearGradient></defs><polygon points="420,25 730,25 718,59.3 410.7,59.3" fill="url(#bg1)"/><line x1="420.8" y1="20.3" x2="408.7" y2="64.2" stroke="#222" stroke-width="1.3"/></svg>
<div class="a" style="left:429.20px;top:31.88px;font-size:21.4px;line-height:21.4px;font-weight:bold;color:#fff;letter-spacing:0.36px;-webkit-text-stroke:0.45px #fff;">CONTAGIOS POR ESTADO</div>
<svg class="a" style="left:1115px;top:12px" width="75" height="75" viewBox="1115 12 75 75"><circle cx="1151.3" cy="48.2" r="28.6" fill="#d13434"/><path d="M1137.2,30.4 L1143.2,30.4 L1152.6,56.5 L1163.4,30.4 L1168,30.4 L1169.8,62.6 L1174.2,62.8 L1174.2,64.2 L1160.2,64.2 L1160.2,62.8 L1164.8,62.6 L1163.3,36 L1151.6,64.2 L1150.4,64.2 L1140.2,37.5 L1136.2,62.6 L1139.6,62.8 L1139.6,64.2 L1130,64.2 L1130,62.8 L1134,62.6 L1138.4,33.5 Z" fill="#fff"/><circle cx="1176.4" cy="23.6" r="3" fill="none" stroke="#d13434" stroke-width="0.8"/><text x="1176.4" y="25.4" text-anchor="middle" font-family="Liberation Sans" font-size="5" font-weight="bold" fill="#d13434">R</text></svg>
<div class="a" style="left:1004.8px;top:188px;width:180.4px;height:172.8px;background:#cf3333;border-radius:12.3px 12.3px 0 0"></div>
<svg class="a" style="left:1004.8px;top:188px" width="181" height="173" viewBox="1004.8 188 181 173"><defs><clipPath id="rb"><rect x="1004.8" y="188" width="180.4" height="172.8" rx="12.3"/></clipPath><filter id="ds" x="-20%" y="-20%" width="140%" height="140%"><feDropShadow dx="-2.5" dy="2.5" stdDeviation="2.2" flood-color="#4a0000" flood-opacity="0.6"/></filter></defs><g clip-path="url(#rb)"><g filter="url(#ds)"><g transform="translate(1162,311) rotate(22) scale(1.36)"><g transform="rotate(0)"><rect x="-5.15" y="-80" width="10.3" height="12" fill="#cf3333"/><path d="M-5.15,-78 Q-6.5,-84.5 -11.7,-88.2 Q-11.7,-91.6 0,-91.6 Q11.7,-91.6 11.7,-88.2 Q6.5,-84.5 5.15,-78Z" fill="#cf3333"/></g><g transform="rotate(45)"><rect x="-5.15" y="-80" width="10.3" height="12" fill="#cf3333"/><path d="M-5.15,-78 Q-6.5,-84.5 -11.7,-88.2 Q-11.7,-91.6 0,-91.6 Q11.7,-91.6 11.7,-88.2 Q6.5,-84.5 5.15,-78Z" fill="#cf3333"/></g><g transform="rotate(90)"><rect x="-5.15" y="-80" width="10.3" height="12" fill="#cf3333"/><path d="M-5.15,-78 Q-6.5,-84.5 -11.7,-88.2 Q-11.7,-91.6 0,-91.6 Q11.7,-91.6 11.7,-88.2 Q6.5,-84.5 5.15,-78Z" fill="#cf3333"/></g><g transform="rotate(135)"><rect x="-5.15" y="-80" width="10.3" height="12" fill="#cf3333"/><path d="M-5.15,-78 Q-6.5,-84.5 -11.7,-88.2 Q-11.7,-91.6 0,-91.6 Q11.7,-91.6 11.7,-88.2 Q6.5,-84.5 5.15,-78Z" fill="#cf3333"/></g><g transform="rotate(180)"><rect x="-5.15" y="-80" width="10.3" height="12" fill="#cf3333"/><path d="M-5.15,-78 Q-6.5,-84.5 -11.7,-88.2 Q-11.7,-91.6 0,-91.6 Q11.7,-91.6 11.7,-88.2 Q6.5,-84.5 5.15,-78Z" fill="#cf3333"/></g><g transform="rotate(225)"><rect x="-5.15" y="-80" width="10.3" height="12" fill="#cf3333"/><path d="M-5.15,-78 Q-6.5,-84.5 -11.7,-88.2 Q-11.7,-91.6 0,-91.6 Q11.7,-91.6 11.7,-88.2 Q6.5,-84.5 5.15,-78Z" fill="#cf3333"/></g><g transform="rotate(270)"><rect x="-5.15" y="-80" width="10.3" height="12" fill="#cf3333"/><path d="M-5.15,-78 Q-6.5,-84.5 -11.7,-88.2 Q-11.7,-91.6 0,-91.6 Q11.7,-91.6 11.7,-88.2 Q6.5,-84.5 5.15,-78Z" fill="#cf3333"/></g><g transform="rotate(315)"><rect x="-5.15" y="-80" width="10.3" height="12" fill="#cf3333"/><path d="M-5.15,-78 Q-6.5,-84.5 -11.7,-88.2 Q-11.7,-91.6 0,-91.6 Q11.7,-91.6 11.7,-88.2 Q6.5,-84.5 5.15,-78Z" fill="#cf3333"/></g><circle r="65.3" fill="#cf3333"/><circle r="59.5" fill="#cf3333"/><circle r="53.2" fill="#cf3333"/><circle cx="-10.4" cy="-24" r="10" fill="#cf3333"/><circle cx="15.5" cy="34" r="6.7" fill="#cf3333"/></g></g></g></svg>
<div class="a" style="left:1004.8px;top:362.3px;width:179.7px;height:198.2px;background:rgba(125,125,125,0.2);border-radius:0 0 15.6px 15.6px"></div>
<div class="a" style="right:27.45px;top:193.91px;font-size:15.1px;line-height:15.1px;font-weight:bold;color:#ffe600;letter-spacing:0.15px;-webkit-text-stroke:0.35px #ffe600;">NÚMEROS POR DÍA</div>
<div class="a" style="left:1015.8px;top:216px;width:161.2px;height:0;border-top:1px dotted rgba(255,255,255,0.6)"></div>
<div class="a" style="right:25.50px;top:223.27px;font-size:16.1px;line-height:16.1px;font-weight:bold;color:#fff;letter-spacing:0.5px;">Casos totales</div>
<div class="a" style="right:19.60px;top:247.39px;font-size:30.6px;line-height:30.6px;font-weight:bold;color:#fff;letter-spacing:0.0px;transform:scaleX(1.11);transform-origin:right center;-webkit-text-stroke:0.8px #fff;">5,662,073</div>
<div class="a" style="left:1015.8px;top:290px;width:161.2px;height:0;border-top:1px dotted rgba(255,255,255,0.6)"></div>
<div class="a" style="right:25.50px;top:297.17px;font-size:16.1px;line-height:16.1px;font-weight:bold;color:#fff;letter-spacing:0.5px;">Casos nuevos</div>
<div class="a" style="right:22.80px;top:318.06px;font-size:33.0px;line-height:33.0px;font-weight:bold;color:#fff;letter-spacing:0.0px;transform:scaleX(1.135);transform-origin:right center;-webkit-text-stroke:0.8px #fff;">2,538</div>
<div class="a" style="left:1025.20px;top:366.97px;font-size:16.1px;line-height:16.1px;font-weight:bold;color:#5b5b5b;letter-spacing:0.42px;-webkit-text-stroke:0.3px #5b5b5b;">Número de casos</div>
<div class="a" style="left:1015.8px;top:387px;width:161.2px;height:0;border-top:1px dotted rgba(80,80,80,0.6)"></div>
<div class="a" style="left:1147.9px;top:392.10px;width:24.6px;height:19.4px;background:#ffd000"></div>
<div class="a" style="right:56.60px;top:396.52px;font-size:12.5px;line-height:12.5px;font-weight:bold;color:#575757;letter-spacing:0.0px;transform:scaleX(1.14);transform-origin:right center;-webkit-text-stroke:0.25px #575757;">0-39,999</div>
<div class="a" style="left:1147.9px;top:415.35px;width:24.6px;height:19.4px;background:#ffa600"></div>
<div class="a" style="right:56.60px;top:419.77px;font-size:12.5px;line-height:12.5px;font-weight:bold;color:#575757;letter-spacing:0.0px;transform:scaleX(1.14);transform-origin:right center;-webkit-text-stroke:0.25px #575757;">40,000+</div>
<div class="a" style="left:1147.9px;top:438.60px;width:24.6px;height:19.4px;background:#ff7500"></div>
<div class="a" style="right:56.60px;top:443.02px;font-size:12.5px;line-height:12.5px;font-weight:bold;color:#575757;letter-spacing:0.0px;transform:scaleX(1.14);transform-origin:right center;-webkit-text-stroke:0.25px #575757;">60,000+</div>
<div class="a" style="left:1147.9px;top:461.85px;width:24.6px;height:19.4px;background:#d31300"></div>
<div class="a" style="right:56.60px;top:466.27px;font-size:12.5px;line-height:12.5px;font-weight:bold;color:#575757;letter-spacing:0.0px;transform:scaleX(1.14);transform-origin:right center;-webkit-text-stroke:0.25px #575757;">80,000+</div>
<div class="a" style="left:1147.9px;top:485.10px;width:24.6px;height:19.4px;background:#8a003f"></div>
<div class="a" style="right:56.60px;top:489.52px;font-size:12.5px;line-height:12.5px;font-weight:bold;color:#575757;letter-spacing:0.0px;transform:scaleX(1.14);transform-origin:right center;-webkit-text-stroke:0.25px #575757;">100,000+</div>
<div class="a" style="left:1147.9px;top:508.35px;width:24.6px;height:19.4px;background:#6a0070"></div>
<div class="a" style="right:56.60px;top:512.77px;font-size:12.5px;line-height:12.5px;font-weight:bold;color:#575757;letter-spacing:0.0px;transform:scaleX(1.14);transform-origin:right center;-webkit-text-stroke:0.25px #575757;">150,000+</div>
<div class="a" style="left:1147.9px;top:531.60px;width:24.6px;height:19.4px;background:#321698"></div>
<div class="a" style="right:56.60px;top:536.02px;font-size:12.5px;line-height:12.5px;font-weight:bold;color:#575757;letter-spacing:0.0px;transform:scaleX(1.14);transform-origin:right center;-webkit-text-stroke:0.25px #575757;">200,000+</div>
<div class="a" style="right:26.68px;top:569.61px;font-size:13.1px;line-height:13.1px;color:#141414;letter-spacing:-0.38px;-webkit-text-stroke:0.2px #141414;">Cifras hasta el corte</div>
<div class="a" style="right:26.68px;top:586.21px;font-size:13.1px;line-height:13.1px;color:#141414;letter-spacing:-0.38px;-webkit-text-stroke:0.2px #141414;">más reciente de la</div>
<div class="a" style="right:23.48px;top:602.71px;font-size:13.1px;line-height:13.1px;color:#141414;letter-spacing:-0.38px;-webkit-text-stroke:0.2px #141414;">Secretaría de Salud,</div>
<div class="a" style="right:23.48px;top:619.31px;font-size:13.1px;line-height:13.1px;color:#141414;letter-spacing:-0.38px;-webkit-text-stroke:0.2px #141414;">del <b>1 de abril</b></div>
<div class="a" style="right:24.18px;top:635.81px;font-size:13.1px;line-height:13.1px;color:#141414;letter-spacing:-0.38px;-webkit-text-stroke:0.2px #141414;">a las 18:00 horas.</div>
</body></html>
